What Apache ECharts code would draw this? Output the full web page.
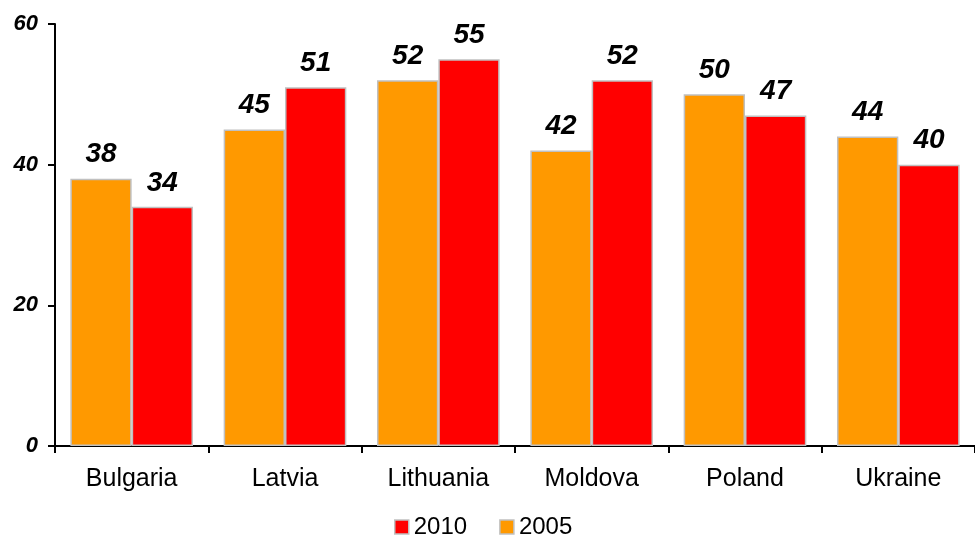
<!DOCTYPE html>
<html>
<head>
<meta charset="utf-8">
<script src="https://cdn.jsdelivr.net/npm/echarts@6/dist/echarts.min.js"></script>
<style>
  html, body { margin: 0; padding: 0; background: #fff; }
  #chart { width: 975px; height: 537px; }
</style>
</head>
<body>
<div id="chart"></div>
<script>
// Country groups and the two survey years
var categories = ['Bulgaria', 'Latvia', 'Lithuania', 'Moldova', 'Poland', 'Ukraine'];
var values2005 = [38, 45, 52, 42, 50, 44];
var values2010 = [34, 51, 55, 52, 47, 40];
var yTicks = [0, 20, 40, 60];

var FONT = '"Liberation Sans", Arial, sans-serif';

var chart = echarts.init(document.getElementById('chart'), null, { renderer: 'canvas' });

var labelStyle = {
  show: true,
  position: 'top',
  distance: 10,
  fontFamily: FONT,
  fontSize: 28,
  fontWeight: 'bold',
  fontStyle: 'italic',
  color: '#000'
};

chart.setOption({
  animation: false,
  backgroundColor: '#fff',
  grid: { left: 55, right: -4, top: 24, bottom: 91 },
  legend: {
    data: ['2010', '2005'],
    top: 515,
    left: 394,
    padding: 0,
    icon: 'rect',
    itemWidth: 14,
    itemHeight: 14,
    itemGap: 32,
    itemStyle: { borderColor: '#C0C0C0', borderWidth: 1.5 },
    textStyle: { fontFamily: FONT, fontSize: 24, color: '#000' }
  },
  xAxis: {
    type: 'category',
    data: categories,
    axisLine: { lineStyle: { color: '#000', width: 2 } },
    axisTick: { show: true, length: 7, lineStyle: { color: '#000', width: 2 } },
    axisLabel: {
      margin: 21,
      fontFamily: FONT,
      fontSize: 25,
      color: '#000'
    }
  },
  yAxis: {
    type: 'value',
    min: yTicks[0],
    max: yTicks[yTicks.length - 1],
    interval: 20,
    splitLine: { show: false },
    axisLine: { show: true, lineStyle: { color: '#000', width: 2 } },
    axisTick: { show: true, length: 7, lineStyle: { color: '#000', width: 2 } },
    axisLabel: {
      margin: 17,
      fontFamily: FONT,
      fontSize: 22,
      fontWeight: 'bold',
      fontStyle: 'italic',
      color: '#000'
    }
  },
  series: [
    {
      name: '2005',
      type: 'bar',
      data: values2005,
      barGap: '0%',
      barCategoryGap: '20%',
      itemStyle: { color: '#FF9900', borderColor: '#C0C0C0', borderWidth: 1.5 },
      label: labelStyle
    },
    {
      name: '2010',
      type: 'bar',
      data: values2010,
      barGap: '0%',
      barCategoryGap: '20%',
      itemStyle: { color: '#FF0000', borderColor: '#C0C0C0', borderWidth: 1.5 },
      label: labelStyle
    }
  ]
});
</script>
</body>
</html>
